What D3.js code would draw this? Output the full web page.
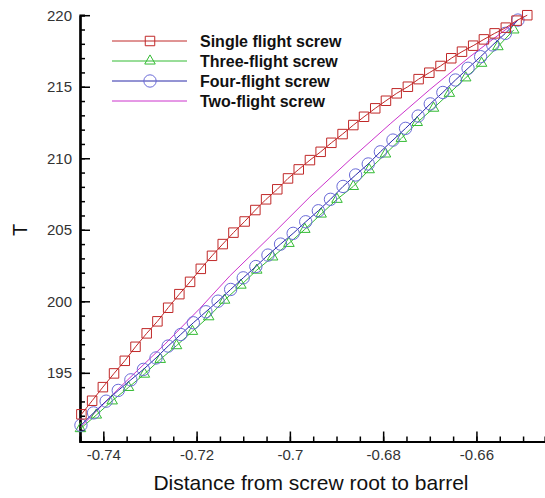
<!DOCTYPE html>
<meta charset="utf-8">
<head>
    <script src="https://d3js.org/d3.v7.min.js"></script>
    <style>
        body { margin: 0; background: #fff; }
        text { font-family: "Liberation Sans", Arial, Helvetica, sans-serif; }
    </style>
</head>
<body>
    <div id="chart"></div>
    <script>

    // ---- data ----
    var seriesNames = ["Single flight screw", "Three-flight screw", "Four-flight screw", "Two-flight screw"]

    var xSingle = [-0.7447, -0.7424, -0.7401, -0.7377, -0.7354, -0.7331, -0.7307, -0.7284, -0.7261, -0.7237,
                   -0.7214, -0.7191, -0.7167, -0.7144, -0.7121, -0.7097, -0.7074, -0.7051, -0.7027, -0.7004,
                   -0.6981, -0.6957, -0.6934, -0.6911, -0.6887, -0.6864, -0.6841, -0.6817, -0.6794, -0.6771,
                   -0.6747, -0.6724, -0.6701, -0.6677, -0.6654, -0.6631, -0.6607, -0.6584, -0.6561, -0.6537,
                   -0.6514, -0.6491]
    var tSingle = [192.1, 193.05, 194.0, 194.96, 195.84, 196.82, 197.76, 198.6, 199.55, 200.5,
                   201.36, 202.27, 203.18, 204.0, 204.8, 205.58, 206.38, 207.13, 207.83, 208.59,
                   209.22, 209.87, 210.45, 211.08, 211.69, 212.32, 212.9, 213.49, 214.02, 214.54,
                   215.0, 215.53, 215.98, 216.45, 216.99, 217.45, 217.87, 218.31, 218.73, 219.13,
                   219.62, 220.0]

    var xThree = [-0.7449, -0.7415, -0.7381, -0.7346, -0.7312, -0.7278, -0.7243, -0.7209, -0.7174, -0.7140,
                  -0.7105, -0.7071, -0.7037, -0.7002, -0.6968, -0.6933, -0.6899, -0.6864, -0.6830, -0.6795,
                  -0.6761, -0.6727, -0.6692, -0.6658, -0.6623, -0.6589, -0.6554, -0.6520]
    var tThree = [191.1, 192.05, 193.04, 193.98, 194.91, 195.94, 196.9, 197.9, 198.92, 200.08,
                  201.13, 202.18, 203.1, 204.05, 205.03, 206.1, 207.13, 208.03, 209.2, 210.3,
                  211.39, 212.5, 213.5, 214.54, 215.62, 216.64, 217.8, 218.97]

    var xFour = [-0.7448, -0.7421, -0.7394, -0.7368, -0.7341, -0.7314, -0.7287, -0.7261, -0.7234, -0.7207,
                 -0.7180, -0.7154, -0.7127, -0.7100, -0.7073, -0.7047, -0.7020, -0.6993, -0.6966, -0.6939,
                 -0.6913, -0.6886, -0.6859, -0.6832, -0.6806, -0.6779, -0.6752, -0.6725, -0.6699, -0.6672,
                 -0.6645, -0.6618, -0.6591, -0.6565, -0.6538, -0.6511]
    var tFour = [191.34, 192.2, 193.02, 193.77, 194.51, 195.24, 196.04, 196.87, 197.68, 198.5,
                 199.27, 200.01, 200.83, 201.64, 202.43, 203.23, 204.0, 204.75, 205.56, 206.33,
                 207.13, 208.03, 208.83, 209.6, 210.45, 211.27, 212.09, 212.95, 213.8, 214.6,
                 215.47, 216.29, 217.1, 217.92, 218.73, 219.66]

    var xTwo = [-0.7449, -0.7364, -0.7268, -0.7193, -0.7128, -0.7043, -0.6957, -0.6871, -0.6785, -0.6700, -0.6614, -0.6513]
    var tTwo = [191.2, 194.0, 197.0, 199.5, 201.8, 204.5, 207.3, 209.9, 212.4, 214.8, 217.1, 219.6]

    var xTickValues = [-0.74, -0.72, -0.70, -0.68, -0.66]
    var xTickLabels = ["-0.74", "-0.72", "-0.7", "-0.68", "-0.66"]
    var yTickValues = [195, 200, 205, 210, 215, 220]
    var yTickLabels = ["195", "200", "205", "210", "215", "220"]

    // ---- layout ----
    var width = 545
        height = 498

    var svg = d3.select("#chart")
                .append("svg")
                .attr("width", width)
                .attr("height", height)

    var x = d3.scaleLinear().domain([-0.745, -0.6453]).range([80, 545])
    var y = d3.scaleLinear().domain([190.2, 220]).range([441.5, 15.2])

    // minor ticks
    svg.append("g")
        .attr("transform", "translate(0,441.5)")
        .call(d3.axisBottom(x).tickValues(d3.range(-0.745, -0.645, 0.005)).tickSize(-5).tickFormat(""))
    svg.append("g")
        .attr("transform", "translate(80,0)")
        .call(d3.axisLeft(y).tickValues(d3.range(191, 220, 1)).tickSize(-5).tickFormat(""))

    // major ticks + labels
    var xAxis = svg.append("g")
        .attr("transform", "translate(0,441.5)")
        .call(d3.axisBottom(x).tickValues(xTickValues).tickSize(-10).tickSizeOuter(0).tickPadding(7)
              .tickFormat(function(d, i) { return xTickLabels[i] }))
    var yAxis = svg.append("g")
        .attr("transform", "translate(80,0)")
        .call(d3.axisLeft(y).tickValues(yTickValues).tickSize(-10).tickSizeOuter(0).tickPadding(8)
              .tickFormat(function(d, i) { return yTickLabels[i] }))

    svg.selectAll(".tick line").attr("stroke", "#000").attr("stroke-width", 1.5)
    svg.selectAll(".domain").attr("stroke", "#000").attr("stroke-width", 2.2)
    svg.selectAll(".tick text")
        .attr("font-family", "'Liberation Sans', Arial, sans-serif")
        .attr("font-size", 15)
        .attr("fill", "#333")
    xAxis.selectAll(".tick text").attr("dy", "0.75em")

    // axis titles
    svg.append("text")
        .attr("x", 311)
        .attr("y", 490)
        .attr("text-anchor", "middle")
        .attr("font-size", 21)
        .attr("fill", "#111")
        .text("Distance from screw root to barrel")

    svg.append("text")
        .attr("transform", "translate(27,230) rotate(-90)")
        .attr("text-anchor", "middle")
        .attr("font-size", 20)
        .attr("fill", "#111")
        .text("T")

    // ---- series ----
    var series = [
        { name: seriesNames[3], xs: xTwo,    ys: tTwo,    line: "#cc33cc", mark: null,     markColor: null },
        { name: seriesNames[1], xs: xThree,  ys: tThree,  line: "#33bb33", mark: "tri",    markColor: "#33bb33" },
        { name: seriesNames[2], xs: xFour,   ys: tFour,   line: "#2828a8", mark: "circle", markColor: "#6a6ad8" },
        { name: seriesNames[0], xs: xSingle, ys: tSingle, line: "#c02828", mark: "square", markColor: "#c02828" }
    ]

    var line = d3.line()
        .x(function(d) { return x(d[0]) })
        .y(function(d) { return y(d[1]) })

    var symbolOf = { tri: d3.symbolTriangle, circle: d3.symbolCircle, square: d3.symbolSquare }
    var sizeOf = { tri: 48, circle: 120, square: 90 }

    series.forEach(function(s) {
        var pts = s.xs.map(function(v, i) { return [v, s.ys[i]] })
        svg.append("path")
            .datum(pts)
            .attr("d", line)
            .attr("fill", "none")
            .attr("stroke", s.line)
            .attr("stroke-width", 1)
        if (s.mark) {
            svg.selectAll(null)
                .data(pts)
                .enter()
                .append("path")
                .attr("d", d3.symbol().type(symbolOf[s.mark]).size(sizeOf[s.mark]))
                .attr("transform", function(d) { return "translate(" + x(d[0]) + "," + y(d[1]) + ")" })
                .attr("fill", "none")
                .attr("stroke", s.markColor)
                .attr("stroke-width", 1)
        }
    })

    // ---- legend ----
    var legendOrder = [
        { name: seriesNames[0], line: "#c02828", mark: "square", markColor: "#c02828" },
        { name: seriesNames[1], line: "#33bb33", mark: "tri",    markColor: "#33bb33" },
        { name: seriesNames[2], line: "#2828a8", mark: "circle", markColor: "#6a6ad8" },
        { name: seriesNames[3], line: "#cc33cc", mark: null,     markColor: null }
    ]

    var legend = svg.selectAll("legendRows")
        .data(legendOrder)
        .enter()
        .append("g")
        .attr("transform", function(d, i) { return "translate(0," + (41 + i * 20) + ")" })

    legend.append("line")
        .attr("x1", 112).attr("x2", 187)
        .attr("stroke", function(d) { return d.line })
        .attr("stroke-width", 1)

    legend.filter(function(d) { return d.mark })
        .append("path")
        .attr("d", function(d) { return d3.symbol().type(symbolOf[d.mark]).size(sizeOf[d.mark])() })
        .attr("transform", "translate(150,0)")
        .attr("fill", "none")
        .attr("stroke", function(d) { return d.markColor })

    legend.append("text")
        .attr("x", 200)
        .attr("dy", "0.35em")
        .attr("font-size", 16)
        .attr("font-weight", "bold")
        .attr("fill", "#111")
        .text(function(d) { return d.name })

    </script>
</body>
